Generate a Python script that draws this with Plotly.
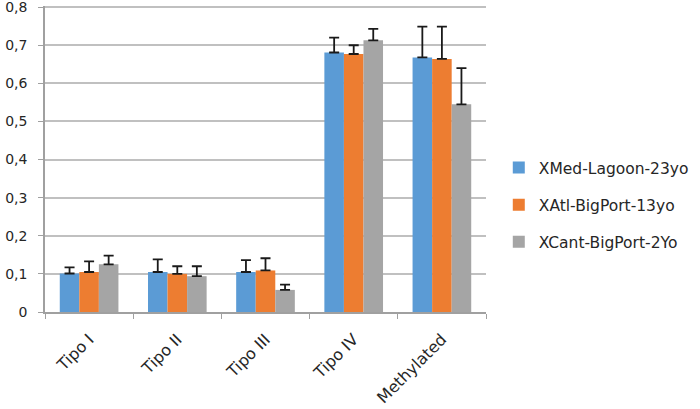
import plotly.graph_objects as go

BLUE = "#5B9BD5"
ORANGE = "#ED7D31"
GRAY = "#A5A5A5"
_TEXT = "#262626"
_GRID = "#C0C0C0"
_AXIS = "#A0A0A0"

categories = ["Tipo I", "Tipo II", "Tipo III", "Tipo IV", "Methylated"]

med_lagoon = [0.101, 0.105, 0.105, 0.681, 0.668]
med_err = [0.016, 0.033, 0.031, 0.039, 0.081]

atl_bigport = [0.105, 0.100, 0.109, 0.677, 0.664]
atl_err = [0.028, 0.020, 0.032, 0.023, 0.085]

cant_bigport = [0.125, 0.094, 0.058, 0.713, 0.545]
cant_err = [0.023, 0.026, 0.014, 0.030, 0.095]

series = [
    ("XMed-Lagoon-23yo", med_lagoon, med_err, BLUE),
    ("XAtl-BigPort-13yo", atl_bigport, atl_err, ORANGE),
    ("XCant-BigPort-2Yo", cant_bigport, cant_err, GRAY),
]

y_ticks = [0, 0.1, 0.2, 0.3, 0.4, 0.5, 0.6, 0.7, 0.8]
y_ticktext = ["0", "0,1", "0,2", "0,3", "0,4", "0,5", "0,6", "0,7", "0,8"]

fig = go.Figure()
for name, vals, errs, color in series:
    fig.add_trace(go.Bar(
        x=categories, y=vals, name=name, legendgroup=name,
        marker=dict(color=color, line=dict(width=0)),
        error_y=dict(type="data", array=errs, arrayminus=[0] * len(errs),
                     symmetric=False, color="#1a1a1a", thickness=1.8, width=5),
    ))

fig.update_layout(
    width=700, height=409,
    plot_bgcolor="white", paper_bgcolor="white",
    font=dict(family="DejaVu Sans, sans-serif", size=14, color=_TEXT),
    margin=dict(l=45, r=211, t=6, b=97),
    barmode="group", bargap=0.335, bargroupgap=0,
    showlegend=True,
    legend=dict(x=1.029, y=0.35, xanchor="left", yanchor="middle",
                font=dict(size=15.5, color=_TEXT), itemwidth=30,
                traceorder="grouped", tracegroupgap=14,
                bgcolor="rgba(0,0,0,0)"),
    xaxis=dict(
        tickangle=-45, tickson="boundaries", ticks="outside", ticklen=5,
        tickcolor=_AXIS, linecolor=_AXIS, linewidth=1.5,
        showgrid=False, tickfont=dict(size=16, color=_TEXT),
        ticklabelstandoff=10, automargin=False,
    ),
    yaxis=dict(
        range=[0, 0.803], tickvals=y_ticks, ticktext=y_ticktext,
        ticks="outside", ticklen=5, tickcolor=_AXIS,
        linecolor=_AXIS, linewidth=1.5, showline=True,
        gridcolor=_GRID, gridwidth=1.5, zeroline=False,
        tickfont=dict(size=14, color=_TEXT),
        ticklabeloverflow="allow", ticklabelstandoff=8, automargin=False,
    ),
)

fig.write_html("out.html", config={"displayModeBar": False},
               post_script="document.body.style.margin='0';")
